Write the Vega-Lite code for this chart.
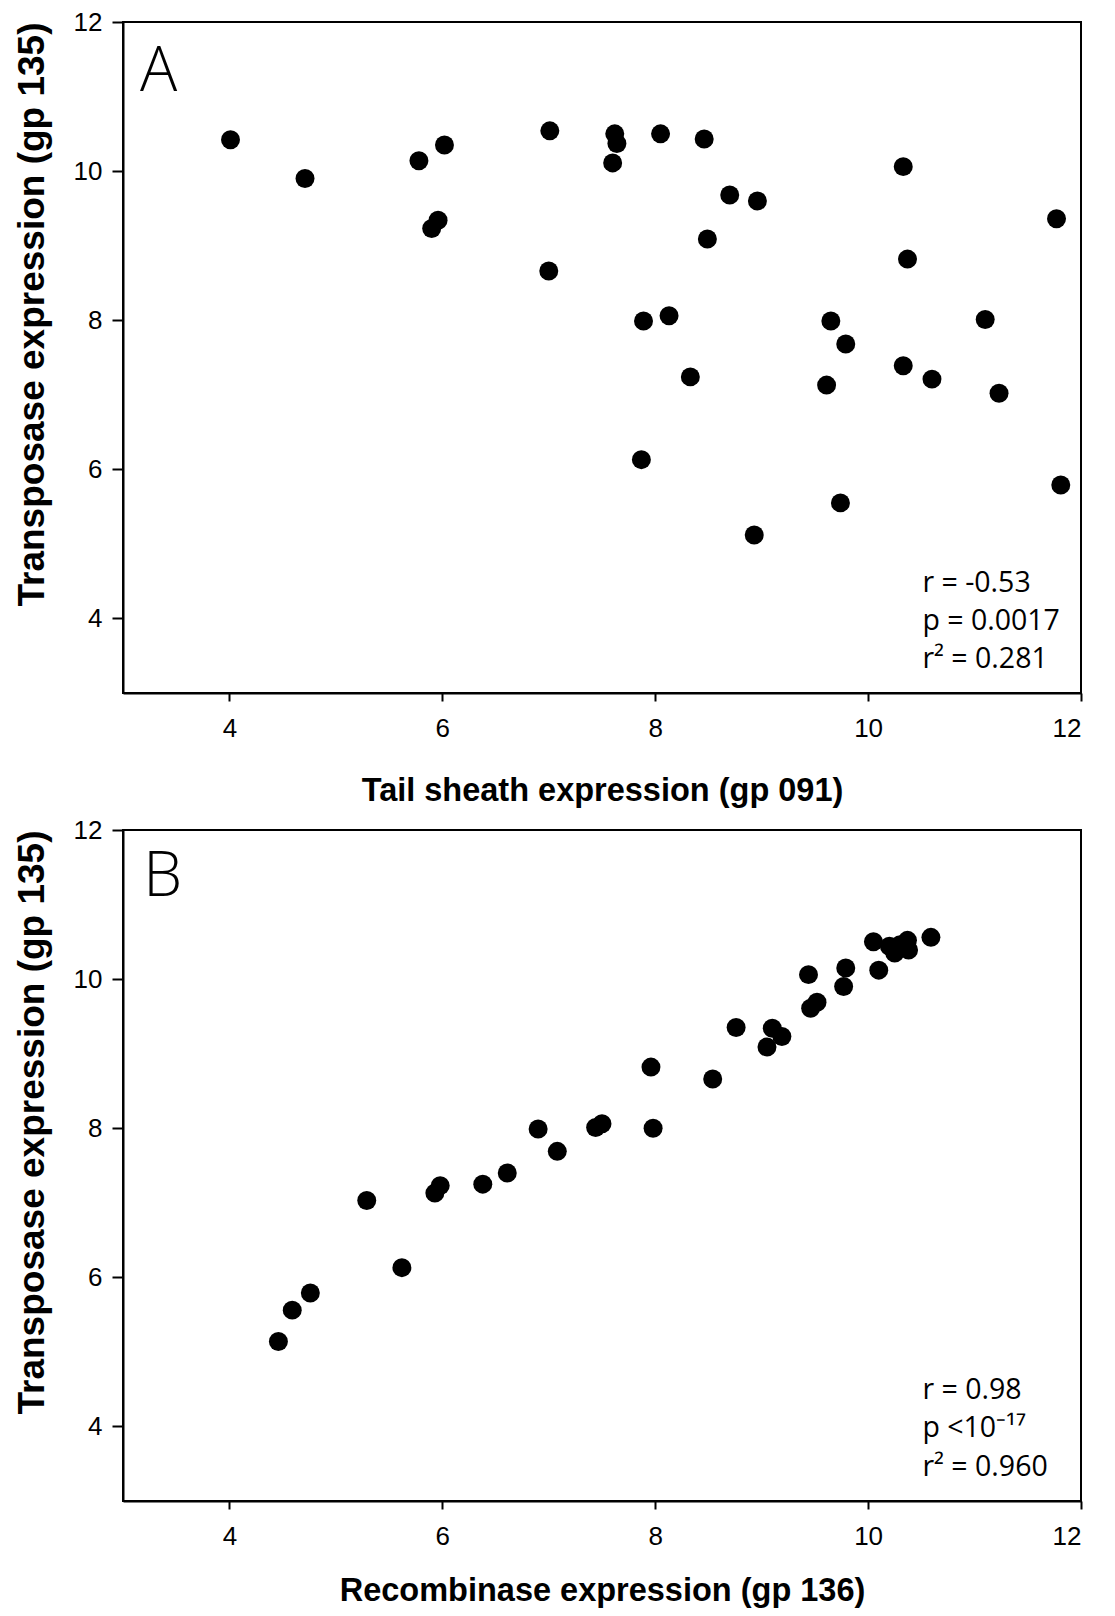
{
  "$schema": "https://vega.github.io/schema/vega-lite/v6.json",
  "padding": {"left": 12, "top": 8, "right": 5, "bottom": 5},
  "background": "white",
  "datasets": {
    "panelA": [
      {"tail_sheath": 4.01, "transposase": 10.42},
      {"tail_sheath": 4.71, "transposase": 9.90},
      {"tail_sheath": 5.78, "transposase": 10.14},
      {"tail_sheath": 6.02, "transposase": 10.35},
      {"tail_sheath": 5.96, "transposase": 9.34},
      {"tail_sheath": 5.90, "transposase": 9.23},
      {"tail_sheath": 7.01, "transposase": 10.54},
      {"tail_sheath": 7.00, "transposase": 8.66},
      {"tail_sheath": 7.62, "transposase": 10.50},
      {"tail_sheath": 7.64, "transposase": 10.37},
      {"tail_sheath": 7.60, "transposase": 10.11},
      {"tail_sheath": 8.05, "transposase": 10.50},
      {"tail_sheath": 8.46, "transposase": 10.43},
      {"tail_sheath": 8.70, "transposase": 9.68},
      {"tail_sheath": 8.96, "transposase": 9.60},
      {"tail_sheath": 8.49, "transposase": 9.09},
      {"tail_sheath": 7.89, "transposase": 7.99},
      {"tail_sheath": 8.13, "transposase": 8.06},
      {"tail_sheath": 8.33, "transposase": 7.24},
      {"tail_sheath": 7.87, "transposase": 6.13},
      {"tail_sheath": 8.93, "transposase": 5.12},
      {"tail_sheath": 10.33, "transposase": 10.06},
      {"tail_sheath": 10.37, "transposase": 8.82},
      {"tail_sheath": 9.65, "transposase": 7.99},
      {"tail_sheath": 9.79, "transposase": 7.68},
      {"tail_sheath": 9.61, "transposase": 7.13},
      {"tail_sheath": 10.33, "transposase": 7.39},
      {"tail_sheath": 10.60, "transposase": 7.21},
      {"tail_sheath": 9.74, "transposase": 5.55},
      {"tail_sheath": 11.10, "transposase": 8.01},
      {"tail_sheath": 11.23, "transposase": 7.02},
      {"tail_sheath": 11.77, "transposase": 9.36},
      {"tail_sheath": 11.81, "transposase": 5.79}
    ],
    "panelB": [
      {"recombinase": 4.46, "transposase": 5.14},
      {"recombinase": 4.59, "transposase": 5.56},
      {"recombinase": 4.76, "transposase": 5.79},
      {"recombinase": 5.62, "transposase": 6.13},
      {"recombinase": 5.29, "transposase": 7.03},
      {"recombinase": 5.93, "transposase": 7.13},
      {"recombinase": 5.98, "transposase": 7.23},
      {"recombinase": 6.38, "transposase": 7.25},
      {"recombinase": 6.61, "transposase": 7.40},
      {"recombinase": 6.90, "transposase": 7.99},
      {"recombinase": 7.08, "transposase": 7.69},
      {"recombinase": 7.44, "transposase": 8.01},
      {"recombinase": 7.50, "transposase": 8.06},
      {"recombinase": 7.98, "transposase": 8.00},
      {"recombinase": 7.96, "transposase": 8.82},
      {"recombinase": 8.54, "transposase": 8.66},
      {"recombinase": 8.76, "transposase": 9.35},
      {"recombinase": 9.10, "transposase": 9.34},
      {"recombinase": 9.19, "transposase": 9.23},
      {"recombinase": 9.05, "transposase": 9.09},
      {"recombinase": 9.44, "transposase": 10.06},
      {"recombinase": 9.46, "transposase": 9.61},
      {"recombinase": 9.52, "transposase": 9.69},
      {"recombinase": 9.77, "transposase": 9.90},
      {"recombinase": 9.79, "transposase": 10.15},
      {"recombinase": 10.10, "transposase": 10.12},
      {"recombinase": 10.05, "transposase": 10.50},
      {"recombinase": 10.20, "transposase": 10.44},
      {"recombinase": 10.25, "transposase": 10.35},
      {"recombinase": 10.30, "transposase": 10.46},
      {"recombinase": 10.37, "transposase": 10.52},
      {"recombinase": 10.38, "transposase": 10.39},
      {"recombinase": 10.59, "transposase": 10.56}
    ]
  },
  "config": {
    "view": {"stroke": "black", "strokeWidth": 2},
    "axis": {
      "domainColor": "black", "domainWidth": 2,
      "tickColor": "black", "tickWidth": 2,
      "labelFont": "Liberation Sans Narrow, Liberation Sans, Arial", "labelFontSize": 26, "labelColor": "black",
      "titleFont": "Liberation Sans", "titleFontWeight": "bold", "titleColor": "black",
      "grid": false, "format": "d"
    },
    "axisX": {"tickSize": 8, "labelPadding": 14, "titleFontSize": 32.5, "titlePadding": 33},
    "axisY": {"tickSize": 11, "labelPadding": 10, "titleFontSize": 37, "titlePadding": 22, "titleAnchor": "end"}
  },
  "spacing": 8,
  "vconcat": [
    {
      "width": 958,
      "height": 671,
      "layer": [
        {
          "data": {"name": "panelA"},
          "mark": {"type": "point", "filled": true, "shape": "circle", "size": 360, "color": "black", "opacity": 1},
          "encoding": {
            "x": {"field": "tail_sheath", "type": "quantitative", "scale": {"domain": [3, 12], "nice": false, "zero": false}, "axis": {"values": [4, 6, 8, 10, 12], "format": "d", "title": "Tail sheath expression (gp 091)"}},
            "y": {"field": "transposase", "type": "quantitative", "scale": {"domain": [3, 12], "nice": false, "zero": false}, "axis": {"values": [4, 6, 8, 10, 12], "format": "d", "title": "Transposase expression (gp 135)"}}
          }
        },
        {
          "data": {"values": [{}]},
          "mark": {"type": "text", "text": ["r = -0.53", "p = 0.0017", "r² = 0.281"], "font": "Open Sans", "fontSize": 28.5, "lineHeight": 38, "align": "left", "baseline": "alphabetic", "color": "black"},
          "encoding": {"x": {"datum": 10.51, "type": "quantitative"}, "y": {"datum": 4.35, "type": "quantitative"}}
        },
        {
          "data": {"values": [{}]},
          "mark": {"type": "text", "text": "A", "font": "Open Sans", "fontWeight": 300, "fontSize": 62, "align": "left", "baseline": "alphabetic", "color": "black"},
          "encoding": {"x": {"datum": 3.16, "type": "quantitative"}, "y": {"datum": 11.07, "type": "quantitative"}}
        }
      ]
    },
    {
      "width": 958,
      "height": 671,
      "layer": [
        {
          "data": {"name": "panelB"},
          "mark": {"type": "point", "filled": true, "shape": "circle", "size": 360, "color": "black", "opacity": 1},
          "encoding": {
            "x": {"field": "recombinase", "type": "quantitative", "scale": {"domain": [3, 12], "nice": false, "zero": false}, "axis": {"values": [4, 6, 8, 10, 12], "format": "d", "title": "Recombinase expression (gp 136)", "titlePadding": 25}},
            "y": {"field": "transposase", "type": "quantitative", "scale": {"domain": [3, 12], "nice": false, "zero": false}, "axis": {"values": [4, 6, 8, 10, 12], "format": "d", "title": "Transposase expression (gp 135)"}}
          }
        },
        {
          "data": {"values": [{}]},
          "mark": {"type": "text", "text": ["r = 0.98", "p <10⁻¹⁷", "r² = 0.960"], "font": "Open Sans", "fontSize": 28.5, "lineHeight": 38.5, "align": "left", "baseline": "alphabetic", "color": "black"},
          "encoding": {"x": {"datum": 10.51, "type": "quantitative"}, "y": {"datum": 4.37, "type": "quantitative"}}
        },
        {
          "data": {"values": [{}]},
          "mark": {"type": "text", "text": "B", "font": "Open Sans", "fontWeight": 300, "fontSize": 62, "align": "left", "baseline": "alphabetic", "color": "black"},
          "encoding": {"x": {"datum": 3.19, "type": "quantitative"}, "y": {"datum": 11.12, "type": "quantitative"}}
        }
      ]
    }
  ]
}
